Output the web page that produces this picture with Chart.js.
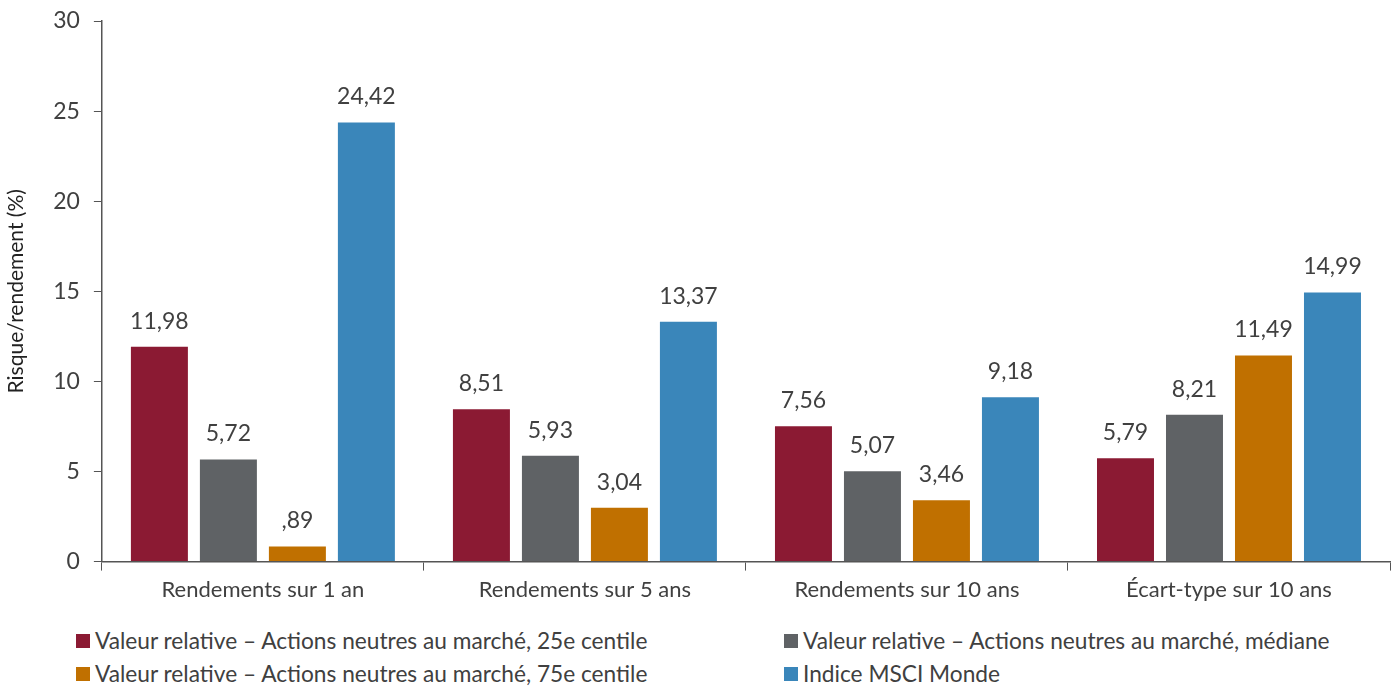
<!DOCTYPE html>
<html>
<head>
  <title>Risque/rendement</title>
  <script src="https://cdn.jsdelivr.net/npm/chart.js"></script>
  <style>
    body { margin: 0; background: #fff; font-family: Lato, "Open Sans", sans-serif; }
    #wrap { position: relative; width: 1393px; height: 612px; }
    #legend { position: absolute; left: 76px; top: 627px; width: 1300px; color: #404040; font-size: 22.7px; }
    .item { position: absolute; white-space: nowrap; display: flex; align-items: center; }
    .sw { width: 14px; height: 14px; margin-right: 5px; }
  </style>
</head>
<body>
  <div id="wrap"><canvas id="chart"></canvas></div>
  <div id="legend"></div>

  <script>
    const categories = ['Rendements sur 1 an', 'Rendements sur 5 ans', 'Rendements sur 10 ans', 'Écart-type sur 10 ans'];
    const seriesNames = [
      'Valeur relative – Actions neutres au marché, 25e centile',
      'Valeur relative – Actions neutres au marché, médiane',
      'Valeur relative – Actions neutres au marché, 75e centile',
      'Indice MSCI Monde'
    ];
    const p25 = [11.98, 8.51, 7.56, 5.79];
    const median = [5.72, 5.93, 5.07, 8.21];
    const p75 = [0.89, 3.04, 3.46, 11.49];
    const msci = [24.42, 13.37, 9.18, 14.99];
    const colors = ['#8b1a33', '#5f6265', '#c07000', '#3a86ba'];
    const yTicks = [0, 5, 10, 15, 20, 25, 30];

    function fmt(v) {
      let s = v.toFixed(2).replace('.', ',');
      if (s.startsWith('0')) s = s.slice(1);
      return s;
    }

    const valueLabels = {
      id: 'valueLabels',
      afterDatasetsDraw(chart) {
        const ctx = chart.ctx;
        ctx.save();
        ctx.font = '23px Lato, "Open Sans", sans-serif';
        ctx.fillStyle = '#404040';
        ctx.textAlign = 'center';
        ctx.textBaseline = 'bottom';
        chart.data.datasets.forEach((ds, i) => {
          chart.getDatasetMeta(i).data.forEach((bar, j) => {
            ctx.fillText(fmt(ds.data[j]), bar.x, bar.y - 13);
          });
        });
        ctx.restore();
      }
    };

    const data = [p25, median, p75, msci];
    const ctx = document.getElementById('chart').getContext('2d');
    new Chart(ctx, {
      type: 'bar',
      data: {
        labels: categories,
        datasets: data.map((d, i) => ({
          label: seriesNames[i],
          data: d,
          backgroundColor: colors[i],
          borderColor: 'rgba(255,255,255,0.5)',
          borderWidth: 1,
          barPercentage: 0.855,
          categoryPercentage: 0.857
        }))
      },
      options: {
        responsive: true,
        maintainAspectRatio: false,
        animation: false,
        layout: { padding: { top: 21, right: 3, left: 0, bottom: 3 } },
        plugins: { legend: { display: false }, tooltip: { enabled: false } },
        scales: {
          x: {
            grid: { display: true, drawOnChartArea: false, offset: true, tickLength: 9, color: '#555' },
            border: { color: '#555', width: 1.5 },
            ticks: { color: '#404040', font: { size: 22, family: 'Lato' }, padding: 6 }
          },
          y: {
            min: 0, max: 30,
            afterBuildTicks(axis) { axis.ticks = yTicks.map(v => ({ value: v })); },
            afterFit(axis) { axis.paddingTop = 0; },
            grid: { display: true, drawOnChartArea: false, tickLength: 8, color: '#555' },
            border: { color: '#555', width: 1.5 },
            ticks: { color: '#404040', font: { size: 23, family: 'Lato' }, padding: 14 },
            title: { display: true, text: 'Risque/rendement (%)', color: '#222', font: { size: 21, family: 'Lato' }, padding: { bottom: 10 } }
          }
        }
      },
      plugins: [valueLabels]
    });

    const legend = document.getElementById('legend');
    const pos = [[0, 0], [708, 0], [0, 33], [708, 33]];
    seriesNames.forEach((name, i) => {
      const el = document.createElement('div');
      el.className = 'item';
      el.style.left = pos[i][0] + 'px';
      el.style.top = pos[i][1] + 'px';
      el.innerHTML = '<span class="sw" style="background:' + colors[i] + '"></span>' + name;
      legend.appendChild(el);
    });
  </script>
</body>
</html>
